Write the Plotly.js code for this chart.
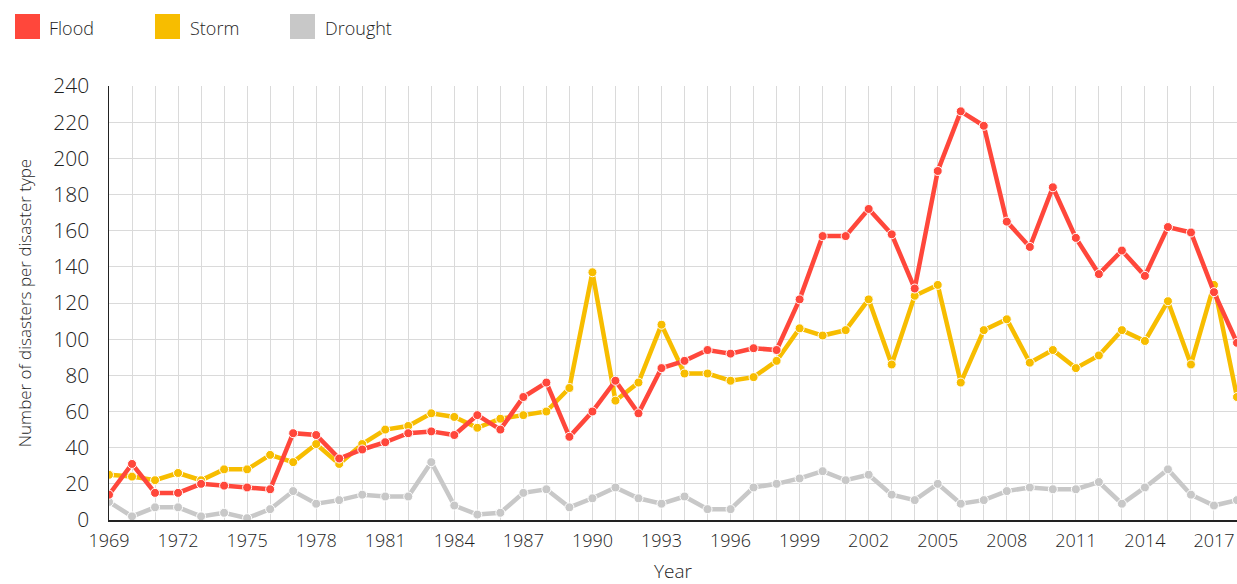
<!DOCTYPE html>
<html>
<head>
<meta charset="utf-8">
<script src="https://cdn.plot.ly/plotly-3.0.1.min.js"></script>
<style>html,body{margin:0;padding:0;background:#fff;}#chart{width:1237px;height:584px;}</style>
</head>
<body>
<div id="chart"></div>
<script>
const years = [1969,1970,1971,1972,1973,1974,1975,1976,1977,1978,1979,1980,1981,1982,1983,1984,1985,1986,1987,1988,1989,1990,1991,1992,1993,1994,1995,1996,1997,1998,1999,2000,2001,2002,2003,2004,2005,2006,2007,2008,2009,2010,2011,2012,2013,2014,2015,2016,2017,2018];
const flood = [14,31,15,15,20,19,18,17,48,47,34,39,43,48,49,47,58,50,68,76,46,60,77,59,84,88,94,92,95,94,122,157,157,172,158,128,193,226,218,165,151,184,156,136,149,135,162,159,126,98];
const storm = [25,24,22,26,22,28,28,36,32,42,31,42,50,52,59,57,51,56,58,60,73,137,66,76,108,81,81,77,79,88,106,102,105,122,86,124,130,76,105,111,87,94,84,91,105,99,121,86,130,68];
const drought = [10,2,7,7,2,4,1,6,16,9,11,14,13,13,32,8,3,4,15,17,7,12,18,12,9,13,6,6,18,20,23,27,22,25,14,11,20,9,11,16,18,17,17,21,9,18,28,14,8,11];
const seriesNames = ["Flood","Storm","Drought"];
const colors = {Flood:"#FF473B", Storm:"#F7BD00", Drought:"#C8C8C8"};
const yTicks = [0,20,40,60,80,100,120,140,160,180,200,220,240];

const W = 1237, H = 584;
const M = {l:109, r:0, t:86, b:64};
const PW = W - M.l - M.r, PH = H - M.t - M.b;
const px = x => (x - M.l) / PW;
const py = y => (H - M.b - y) / PH;

function trace(name, vals){
  return {
    x: years, y: vals, name: name, type: "scatter", mode: "lines+markers",
    line: {color: colors[name], width: 4.5},
    marker: {color: colors[name], size: 9, line: {color: "#ffffff", width: 1}},
    showlegend: false, cliponaxis: true
  };
}
const data = [trace("Drought", drought), trace("Storm", storm), trace("Flood", flood)];

const FAM = "Open Sans, Segoe UI, sans-serif";
const TXT = "#1e1e1e";
const WT = 300;
const legendPos = [{name:"Flood", sq:15, tx:47}, {name:"Storm", sq:155, tx:188}, {name:"Drought", sq:290, tx:323}];
const shapes = legendPos.map(p => ({
  type: "rect", xref: "paper", yref: "paper",
  x0: px(p.sq), x1: px(p.sq + 25), y0: py(39), y1: py(14),
  fillcolor: colors[p.name], line: {width: 0}
}));
const annotations = legendPos.map(p => ({
  text: p.name, xref: "paper", yref: "paper", x: px(p.tx), y: py(28),
  xanchor: "left", yanchor: "middle", showarrow: false,
  font: {family: FAM, size: 18, color: TXT, weight: WT}
}));

const layout = {
  width: W, height: H,
  margin: M,
  paper_bgcolor: "#ffffff", plot_bgcolor: "#ffffff",
  font: {family: FAM, size: 18, color: TXT, weight: WT},
  showlegend: false,
  xaxis: {
    range: [1969, 2018], tickmode: "linear", tick0: 1969, dtick: 3,
    showgrid: true, gridcolor: "#dadada", gridwidth: 1,
    minor: {dtick: 1, tick0: 1969, showgrid: true, gridcolor: "#dadada", gridwidth: 1},
    showline: true, linecolor: "#222222", linewidth: 1.5,
    ticks: "", zeroline: false,
    tickfont: {family: FAM, size: 18, color: TXT, weight: WT},
    ticklabelstandoff: 4,
    title: {text: "Year", font: {family: FAM, size: 19, color: TXT, weight: WT}, standoff: 34},
    automargin: false, fixedrange: true
  },
  yaxis: {
    range: [0, 240], tickmode: "array", tickvals: yTicks, ticktext: yTicks.map(String),
    showgrid: true, gridcolor: "#dadada", gridwidth: 1,
    showline: true, linecolor: "#222222", linewidth: 1.5,
    ticks: "", zeroline: false,
    tickfont: {family: FAM, size: 21, color: TXT, weight: WT},
    ticklabelstandoff: 14,
    title: {text: "Number of disasters per disaster type", font: {family: FAM, size: 17, color: TXT, weight: WT}, standoff: 17},
    automargin: false, fixedrange: true
  },
  shapes: shapes,
  annotations: annotations
};

Plotly.newPlot("chart", data, layout, {displayModeBar: false, staticPlot: true});
</script>
</body>
</html>
